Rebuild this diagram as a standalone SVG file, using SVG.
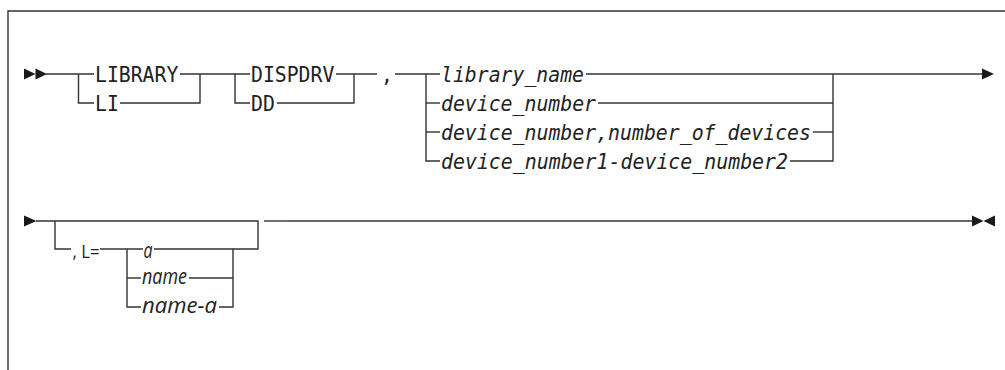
<svg xmlns="http://www.w3.org/2000/svg" width="1005" height="370" viewBox="0 0 1005 370">
<style>
.ln{fill:none;stroke:#333;stroke-width:1.4}
.ar{fill:#1a1a1a;stroke:none}
.m{font-family:"DejaVu Sans Mono","Liberation Mono",monospace;font-size:22px;fill:#222}
.mi{font-family:"DejaVu Sans Mono","Liberation Mono",monospace;font-size:22px;font-style:italic;fill:#222}
.s{font-family:"Open Sans","Liberation Sans",sans-serif;font-size:18px;fill:#222}
.si{font-family:"Open Sans","Liberation Sans",sans-serif;font-size:21px;font-style:italic;fill:#222}
</style>
<rect x="0" y="0" width="1005" height="370" fill="#fff"/>
<path class="ln" d="M8 370 V11 H1005" stroke-width="1.6"/>
<g id="connectors">
<path class="ar" d="M24 68.5 L35.5 74 L24 79.5 Z M35.5 68.5 L47 74 L35.5 79.5 Z"/>
<path class="ln" d="M46 74 H94"/>
<path class="ln" d="M78.5 74 V103 H94"/>
<path class="ln" d="M180 74 H250"/>
<path class="ln" d="M120 103 H200 V74"/>
<path class="ln" d="M235 74 V103 H250"/>
<path class="ln" d="M336 74 H377"/>
<path class="ln" d="M277 103 H354 V74"/>
<path class="ln" d="M395 74 H440"/>
<path class="ln" d="M426 74 V161 H440"/>
<path class="ln" d="M426 103 H440"/>
<path class="ln" d="M426 132 H440"/>
<path class="ln" d="M586 74 H982"/>
<path class="ln" d="M598 103 H833"/>
<path class="ln" d="M813 132 H833"/>
<path class="ln" d="M790 161 H833 V74"/>
<path class="ar" d="M982 68.5 L994 74 L982 79.5 Z"/>
<path class="ar" d="M24 215.5 L36.5 221 L24 226.5 Z"/>
<path class="ln" d="M36 221 H258 V249 H233"/>
<path class="ln" d="M55 221 V249 H71"/>
<path class="ln" d="M100 249 H143"/>
<path class="ln" d="M127 249 V307 H141"/>
<path class="ln" d="M127 278 H141"/>
<path class="ln" d="M154 249 H233 V307 H219"/>
<path class="ln" d="M189 278 H233"/>
<path class="ln" d="M264 221 H288" stroke-width="2.8" stroke="#111"/>
<path class="ln" d="M288 221 H972"/>
<path class="ar" d="M972 215.5 L983.5 221 L972 226.5 Z M995 215.5 L983.5 221 L995 226.5 Z"/>
</g>
<g id="n-library"><text class="m" x="95" y="82" textLength="83.3" lengthAdjust="spacingAndGlyphs">LIBRARY</text></g>
<g id="n-li"><text class="m" x="95" y="111" textLength="23.8" lengthAdjust="spacingAndGlyphs">LI</text></g>
<g id="n-dispdrv"><text class="m" x="251" y="82" textLength="83.3" lengthAdjust="spacingAndGlyphs">DISPDRV</text></g>
<g id="n-dd"><text class="m" x="251" y="111" textLength="23.8" lengthAdjust="spacingAndGlyphs">DD</text></g>
<g id="n-comma"><text class="m" x="381" y="82" textLength="11.9" lengthAdjust="spacingAndGlyphs">,</text></g>
<g id="n-library-name"><text class="mi" x="441" y="82" textLength="143" lengthAdjust="spacingAndGlyphs">library_name</text></g>
<g id="n-device-number"><text class="mi" x="441" y="111" textLength="155" lengthAdjust="spacingAndGlyphs">device_number</text></g>
<g id="n-device-number-count"><text class="mi" x="441" y="140" textLength="370" lengthAdjust="spacingAndGlyphs">device_number,number_of_devices</text></g>
<g id="n-device-range"><text class="mi" x="441" y="169" textLength="347" lengthAdjust="spacingAndGlyphs">device_number1-device_number2</text></g>
<g id="n-l-eq"><text class="s" x="72.5" y="258" textLength="27" lengthAdjust="spacingAndGlyphs">, L=</text></g>
<g id="n-a"><text class="si" x="143.5" y="258" textLength="9" lengthAdjust="spacingAndGlyphs">a</text></g>
<g id="n-name"><text class="si" x="142" y="284" textLength="45" lengthAdjust="spacingAndGlyphs">name</text></g>
<g id="n-name-a"><text class="si" x="142" y="313" textLength="75" lengthAdjust="spacingAndGlyphs">name-a</text></g>
</svg>
